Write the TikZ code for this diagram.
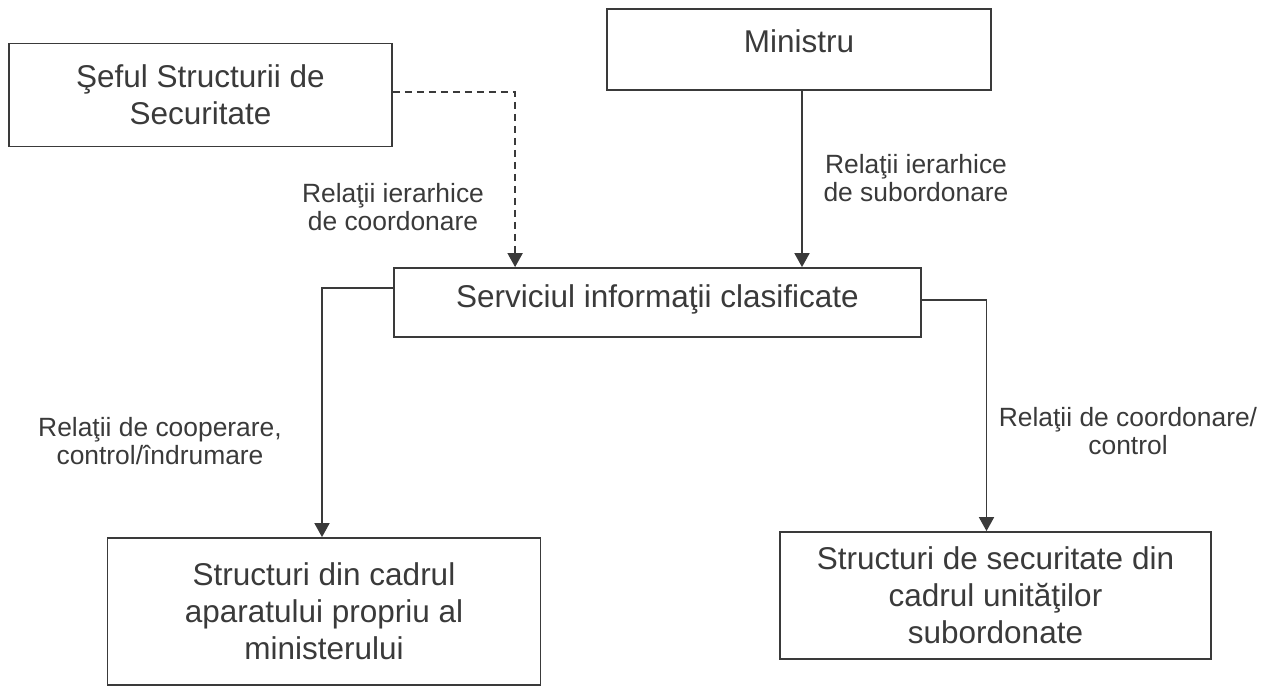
\documentclass[tikz,border=0pt]{standalone}
\usepackage{fontspec}
\setmainfont{Liberation Sans}
\usetikzlibrary{arrows.meta}
\definecolor{ink}{HTML}{3A3A3A}
\begin{document}
\begin{tikzpicture}[x=1pt,y=-1pt,
  box/.style={draw=ink, line width=1.8pt, inner sep=0pt, align=center, text=ink,
    font=\fontsize{31.5pt}{37pt}\selectfont},
  lab/.style={align=center, text=ink, inner sep=0pt,
    font=\fontsize{26.4pt}{28pt}\selectfont},
  conn/.style={draw=ink, line width=1.8pt, -{Triangle[width=15pt,length=14pt]}},
  dconn/.style={conn, dash pattern=on 7pt off 5pt}]
\useasboundingbox (0,0) rectangle (1267,686);
% boxes
\node[box, minimum width=383pt, minimum height=103pt] (seful) at (200.5,95)
  {Şeful Structurii de\\Securitate};
\node[box, minimum width=384pt, minimum height=81pt, text height=22.5pt, text depth=17.5pt]
  (min) at (799,49.5) {Ministru};
\node[box, minimum width=527pt, minimum height=69pt, text height=23pt, text depth=14pt]
  (serv) at (657.5,302.5) {Serviciul informaţii clasificate};
\node[box, minimum width=433pt, minimum height=147pt] (bl) at (324,611.5)
  {Structuri din cadrul\\aparatului propriu al\\ministerului};
\node[box, minimum width=431pt, minimum height=127pt] (br) at (995.5,595.5)
  {Structuri de securitate din\\cadrul unităţilor\\subordonate};
% labels
\node[lab] (l1) at (393,207) {Relaţii ierarhice\\de coordonare};
\node[lab] (l2) at (916,178) {Relaţii ierarhice\\de subordonare};
\node[lab] (l3) at (160,441) {Relaţii de cooperare,\\control/îndrumare};
\node[lab] (l4) at (1128,431) {Relaţii de coordonare/\\control};
% connectors
\draw[dconn] ([yshift=3pt]seful.east) -| ([xshift=122pt]serv.north west);
\draw[conn] ([xshift=3pt]min.south) -- ([xshift=3pt]min.south |- serv.north);
\draw[conn] ([yshift=14.5pt]serv.west) -| ([xshift=-2pt]bl.north);
\draw[conn] ([yshift=2.5pt]serv.east) -| ([xshift=-9pt]br.north);
\end{tikzpicture}
\end{document}
